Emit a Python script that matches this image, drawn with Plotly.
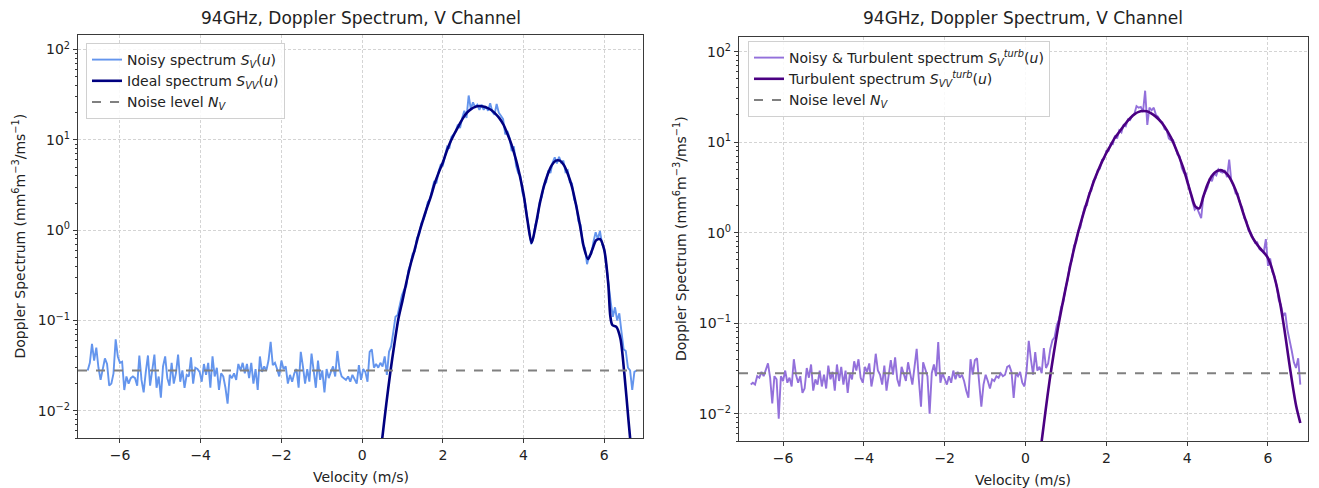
import numpy as np
import plotly.graph_objects as go

# ---------------- data ----------------
# Doppler velocity bins (m/s)
V_MIN, V_MAX, N_BINS = -6.8, 6.8, 256
velocity = np.linspace(V_MIN, V_MAX, N_BINS)

# Noise level N_V (mm^6 m^-3 / m s^-1)
noise_level = 0.028

# Noisy spectrum S_V(u), one value per velocity bin
noisy_spectrum = [
    0.028, 0.034, 0.055, 0.036, 0.050, 0.030, 0.022, 0.029, 0.038, 0.033,
    0.019, 0.020, 0.026, 0.062, 0.040, 0.034, 0.035, 0.017, 0.024, 0.020,
    0.023, 0.024, 0.023, 0.019, 0.041, 0.022, 0.016, 0.027, 0.041, 0.019,
    0.028, 0.042, 0.018, 0.024, 0.014, 0.031, 0.040, 0.023, 0.019, 0.034,
    0.020, 0.026, 0.042, 0.021, 0.028, 0.018, 0.025, 0.024, 0.039, 0.020,
    0.030, 0.029, 0.027, 0.021, 0.033, 0.025, 0.034, 0.018, 0.040, 0.024,
    0.030, 0.017, 0.026, 0.024, 0.018, 0.012, 0.025, 0.023, 0.026, 0.022,
    0.033, 0.028, 0.034, 0.026, 0.033, 0.023, 0.034, 0.020, 0.029, 0.017,
    0.040, 0.027, 0.031, 0.028, 0.036, 0.058, 0.032, 0.034, 0.029, 0.024,
    0.036, 0.029, 0.031, 0.020, 0.025, 0.021, 0.026, 0.029, 0.018, 0.045,
    0.031, 0.020, 0.029, 0.021, 0.043, 0.026, 0.018, 0.036, 0.022, 0.028,
    0.016, 0.029, 0.023, 0.027, 0.031, 0.024, 0.046, 0.029, 0.024, 0.023,
    0.022, 0.024, 0.021, 0.025, 0.022, 0.020, 0.032, 0.022, 0.029, 0.027,
    0.021, 0.045, 0.048, 0.030, 0.033, 0.030, 0.034, 0.031, 0.040, 0.025,
    0.045, 0.052, 0.075, 0.11, 0.115, 0.15, 0.19, 0.22, 0.24, 0.36,
    0.42, 0.55, 0.58, 0.82, 0.90, 1.20, 1.30, 1.55, 2.05, 2.20,
    2.70, 3.50, 3.30, 4.40, 5.3, 5.2, 6.6, 8.4, 8.0, 10.8,
    11.5, 12.5, 14.8, 13.5, 17.5, 21.0, 17.5, 31.0, 22.0, 26.0,
    23.0, 24.5, 21.5, 24.5, 21.5, 23.5, 21.0, 25.5, 20.5, 19.0,
    25.0, 20.0, 18.5, 17.0, 11.5, 12.5, 10.5, 7.5, 8.5, 5.2,
    4.3, 4.0, 2.6, 2.2, 1.5, 0.95, 0.70, 0.80, 1.15, 1.35,
    2.05, 2.35, 3.2, 3.4, 4.6, 4.3, 5.6, 6.4, 5.5, 6.5,
    5.6, 5.9, 4.4, 4.6, 3.4, 3.3, 2.2, 1.9, 1.25, 1.15,
    0.70, 0.64, 0.42, 0.52, 0.55, 0.75, 0.95, 0.80, 0.98, 0.70,
    0.62, 0.40, 0.24, 0.16, 0.11, 0.14, 0.10, 0.12, 0.075, 0.048,
    0.046, 0.030, 0.028, 0.017, 0.027, 0.028,
]

# Ideal spectrum S_VV(u)
ideal_velocity = [
    0.45, 0.50,
    0.6, 0.7, 0.8, 0.9, 1.0, 1.1, 1.2, 1.3, 1.4, 1.5,
    1.6, 1.7, 1.8, 1.9, 2.0, 2.1, 2.2, 2.3, 2.4, 2.5,
    2.6, 2.7, 2.8, 2.9, 3.0, 3.1, 3.2, 3.3, 3.4, 3.5,
    3.6, 3.7, 3.8, 3.9, 4.0, 4.1, 4.2, 4.3, 4.4, 4.5,
    4.6, 4.7, 4.8, 4.9, 5.0, 5.1, 5.2, 5.3, 5.4, 5.5,
    5.6, 5.7, 5.8, 5.9, 6.0, 6.1,
    6.15, 6.2, 6.3, 6.4, 6.5, 6.6, 6.65, 6.7,
]
ideal_spectrum = [
    0.0032, 0.0050,
    0.0120, 0.0269, 0.0550, 0.105, 0.166, 0.269, 0.417, 0.603, 0.891, 1.26,
    1.74, 2.34, 3.31, 4.37, 5.62, 7.59, 9.77, 12.0, 14.5, 17.4,
    20.0, 21.9, 23.2, 23.7, 23.4, 22.6, 21.4, 19.5, 17.4, 14.8,
    11.7, 8.91, 6.31, 4.17, 2.51, 1.26, 0.724, 1.12, 1.95, 3.02,
    4.17, 5.25, 5.89, 5.89, 5.25, 4.17, 3.02, 1.91, 1.12, 0.631,
    0.479, 0.603, 0.776, 0.794, 0.603, 0.251,
    0.112, 0.0891, 0.0851, 0.0631, 0.0251, 0.0079, 0.0045, 0.0025,
]

# Noisy & turbulent spectrum S_V^turb(u), one value per velocity bin
noisy_turb_spectrum = [
    0.021, 0.022, 0.021, 0.026, 0.025, 0.029, 0.026, 0.031, 0.036, 0.025,
    0.013, 0.026, 0.024, 0.0088, 0.026, 0.023, 0.030, 0.022, 0.025, 0.020,
    0.040, 0.027, 0.022, 0.026, 0.017, 0.019, 0.032, 0.025, 0.035, 0.018,
    0.024, 0.021, 0.030, 0.020, 0.027, 0.019, 0.034, 0.024, 0.029, 0.018,
    0.035, 0.023, 0.033, 0.021, 0.030, 0.017, 0.028, 0.024, 0.038, 0.030,
    0.040, 0.025, 0.022, 0.033, 0.029, 0.036, 0.020, 0.027, 0.046, 0.030,
    0.027, 0.021, 0.034, 0.018, 0.026, 0.039, 0.027, 0.042, 0.024, 0.020,
    0.033, 0.028, 0.023, 0.037, 0.028, 0.021, 0.033, 0.052, 0.024, 0.012,
    0.037, 0.030, 0.026, 0.010, 0.028, 0.035, 0.026, 0.062, 0.022, 0.028,
    0.024, 0.021, 0.026, 0.022, 0.030, 0.024, 0.029, 0.025, 0.027, 0.023,
    0.018, 0.015, 0.040, 0.027, 0.039, 0.041, 0.022, 0.012, 0.021, 0.027,
    0.023, 0.019, 0.024, 0.023, 0.026, 0.025, 0.028, 0.026, 0.027, 0.033,
    0.034, 0.029, 0.015, 0.028, 0.026, 0.029, 0.022, 0.020, 0.030, 0.064,
    0.040, 0.027, 0.048, 0.030, 0.033, 0.028, 0.053, 0.032, 0.036, 0.052,
    0.065, 0.070, 0.095, 0.11, 0.15, 0.17, 0.24, 0.30, 0.43, 0.50,
    0.72, 0.78, 1.05, 1.15, 1.55, 1.95, 2.00, 2.75, 2.90, 3.75,
    4.0, 4.9, 5.1, 6.4, 6.5, 8.0, 8.0, 9.6, 9.5, 11.8,
    11.0, 13.5, 12.8, 15.5, 15.0, 17.8, 17.5, 19.6, 20.5, 25.0,
    24.0, 24.5, 21.5, 37.0, 15.5, 24.0, 22.5, 24.0, 20.0, 19.0,
    17.0, 16.5, 14.0, 13.5, 11.0, 10.5, 10.5, 8.9, 7.3, 7.0,
    5.2, 4.6, 4.5, 3.5, 2.7, 2.2, 1.8, 1.9, 1.65, 1.45,
    2.5, 2.9, 3.2, 4.0, 3.7, 4.5, 4.3, 5.0, 4.7, 4.6,
    4.9, 4.1, 6.4, 3.7, 3.3, 2.7, 2.7, 2.1, 1.9, 1.45,
    1.35, 1.05, 1.0, 0.88, 0.77, 0.78, 0.66, 0.63, 0.60, 0.85,
    0.43, 0.52, 0.37, 0.33, 0.26, 0.18, 0.16, 0.12, 0.13, 0.085,
    0.067, 0.050, 0.037, 0.032, 0.041, 0.021,
]

# Turbulent spectrum S_VV^turb(u)
turb_velocity = [
    0.35, 0.40,
    0.5, 0.6, 0.7, 0.8, 0.9, 1.0, 1.1, 1.2, 1.3, 1.4,
    1.5, 1.6, 1.7, 1.8, 1.9, 2.0, 2.1, 2.2, 2.3, 2.4,
    2.5, 2.6, 2.7, 2.8, 2.9, 3.0, 3.1, 3.2, 3.3, 3.4,
    3.5, 3.6, 3.7, 3.8, 3.9, 4.0, 4.1, 4.2, 4.3, 4.4,
    4.5, 4.6, 4.7, 4.8, 4.9, 5.0, 5.1, 5.2, 5.3, 5.4,
    5.5, 5.6, 5.7, 5.8, 5.9, 6.0, 6.1, 6.2, 6.3, 6.4,
    6.5, 6.6, 6.7, 6.8,
]
turb_spectrum = [
    0.00355, 0.0050,
    0.0112, 0.0240, 0.0468, 0.0871, 0.151, 0.251, 0.417, 0.661, 1.00, 1.45,
    2.04, 2.82, 3.80, 4.90, 6.17, 7.59, 9.12, 11.0, 12.6, 14.5,
    16.6, 18.6, 20.4, 21.6, 22.1, 21.9, 20.9, 19.5, 17.8, 15.8,
    13.5, 11.2, 8.91, 6.92, 5.25, 3.72, 2.63, 1.95, 1.86, 2.51,
    3.39, 4.17, 4.68, 4.90, 4.79, 4.37, 3.72, 2.95, 2.19, 1.58,
    1.17, 0.912, 0.776, 0.676, 0.603, 0.525, 0.398, 0.275, 0.166, 0.0891,
    0.0437, 0.0219, 0.0120, 0.0079,
]

# Axis limits
X_RANGE_LEFT = [-7.04, 6.96]
X_RANGE_RIGHT = [-7.09, 6.99]
Y_LIM = [0.005, 145.0]
X_TICKS = [-6, -4, -2, 0, 2, 4, 6]
Y_TICKS = [0.01, 0.1, 1, 10, 100]
Y_TICK_TEXT = ["10<sup>\u22122</sup>", "10<sup>\u22121</sup>", "10<sup>0</sup>",
               "10<sup>1</sup>", "10<sup>2</sup>"]

# ---------------- styling ----------------
FONT = "DejaVu Sans"
W, H = 1319, 488
TEXT_COLOR = "#222222"
FRAME_COLOR = "#3a3a3a"
GRID_COLOR = "#d4d4d4"
GRID_DASH = "3px,2px"

minor_vals = [k * 10.0 ** e for e in range(-3, 3) for k in range(2, 10)]
minor_vals = [m for m in minor_vals if Y_LIM[0] <= m <= Y_LIM[1]]

fig = go.Figure()

# ---- left panel ----
fig.add_trace(go.Scatter(
    x=velocity, y=noisy_spectrum, mode="lines",
    line=dict(color="#6495ED", width=1.9),
    name="Noisy spectrum <i>S</i><sub><i>V</i></sub>(<i>u</i>)",
    xaxis="x", yaxis="y", legend="legend"))
fig.add_trace(go.Scatter(
    x=ideal_velocity, y=ideal_spectrum, mode="lines",
    line=dict(color="#000080", width=2.6, shape="spline", smoothing=0.8),
    name="Ideal spectrum <i>S</i><sub><i>VV</i></sub>(<i>u</i>)",
    xaxis="x", yaxis="y", legend="legend"))
fig.add_trace(go.Scatter(
    x=X_RANGE_LEFT, y=[noise_level, noise_level], mode="lines",
    line=dict(color="#808080", width=1.9, dash="dash"),
    name="Noise level <i>N</i><sub><i>V</i></sub>",
    xaxis="x", yaxis="y", legend="legend"))

# ---- right panel ----
fig.add_trace(go.Scatter(
    x=velocity, y=noisy_turb_spectrum, mode="lines",
    line=dict(color="#9370DB", width=1.9),
    name="Noisy & Turbulent spectrum <i>S</i><sub><i>V</i></sub><sup><i>turb</i></sup>(<i>u</i>)",
    xaxis="x2", yaxis="y2", legend="legend2"))
fig.add_trace(go.Scatter(
    x=turb_velocity, y=turb_spectrum, mode="lines",
    line=dict(color="#4B0082", width=2.6, shape="spline", smoothing=0.8),
    name="Turbulent spectrum <i>S</i><sub><i>VV</i></sub><sup><i>turb</i></sup>(<i>u</i>)",
    xaxis="x2", yaxis="y2", legend="legend2"))
fig.add_trace(go.Scatter(
    x=X_RANGE_RIGHT, y=[noise_level, noise_level], mode="lines",
    line=dict(color="#808080", width=1.9, dash="dash"),
    name="Noise level <i>N</i><sub><i>V</i></sub>",
    xaxis="x2", yaxis="y2", legend="legend2"))


def x_axis(domain, rng, anchor):
    return dict(
        domain=domain, range=rng, anchor=anchor,
        tickvals=X_TICKS, ticktext=[str(t).replace("-", "\u2212") for t in X_TICKS],
        showgrid=True, gridcolor=GRID_COLOR, griddash=GRID_DASH, gridwidth=0.8,
        showline=True, mirror=True, linecolor=FRAME_COLOR, linewidth=1.3,
        ticks="outside", ticklen=4, tickwidth=1, tickcolor=FRAME_COLOR,
        zeroline=False, tickfont=dict(family=FONT, size=14, color=TEXT_COLOR))


def y_axis(domain, anchor):
    return dict(
        type="log", domain=domain, anchor=anchor,
        range=[np.log10(Y_LIM[0]), np.log10(Y_LIM[1])],
        tickvals=Y_TICKS, ticktext=Y_TICK_TEXT,
        showgrid=True, gridcolor=GRID_COLOR, griddash=GRID_DASH, gridwidth=0.8,
        showline=True, mirror=True, linecolor=FRAME_COLOR, linewidth=1.3,
        ticks="outside", ticklen=4, tickwidth=1, tickcolor=FRAME_COLOR,
        minor=dict(tickvals=minor_vals, ticks="outside", ticklen=2,
                   tickcolor=FRAME_COLOR, showgrid=False),
        zeroline=False, tickfont=dict(family=FONT, size=14, color=TEXT_COLOR))


left_x = [78 / W, 643 / W]
right_x = [739 / W, 1308 / W]
left_y = [1 - 438 / H, 1 - 35 / H]
right_y = [1 - 441 / H, 1 - 37 / H]

legend_style = dict(
    bgcolor="rgba(255,255,255,0.85)", bordercolor="#d0d0d0", borderwidth=1,
    font=dict(family=FONT, size=14, color=TEXT_COLOR),
    xanchor="left", yanchor="top", tracegroupgap=0, itemwidth=30)

title = "94GHz, Doppler Spectrum, V Channel"
ylabel = "Doppler Spectrum (mm<sup>6</sup>m<sup>\u22123</sup>/ms<sup>\u22121</sup>)"
xlabel = "Velocity (m/s)"

annotations = []
for (xd, yd) in [(left_x, left_y), (right_x, right_y)]:
    xc = (xd[0] + xd[1]) / 2
    annotations.append(dict(text=title, x=xc, y=1 - 18 / H, xref="paper", yref="paper",
                            showarrow=False, xanchor="center", yanchor="middle",
                            font=dict(family=FONT, size=17, color=TEXT_COLOR)))
    annotations.append(dict(text=xlabel, x=xc, y=yd[0] - 39 / H, xref="paper", yref="paper",
                            showarrow=False, xanchor="center", yanchor="middle",
                            font=dict(family=FONT, size=14, color=TEXT_COLOR)))
    annotations.append(dict(text=ylabel, x=xd[0] - 59 / W, y=(yd[0] + yd[1]) / 2,
                            xref="paper", yref="paper", textangle=-90,
                            showarrow=False, xanchor="center", yanchor="middle",
                            font=dict(family=FONT, size=14, color=TEXT_COLOR)))

fig.update_layout(
    width=W, height=H, autosize=False,
    margin=dict(l=0, r=0, t=0, b=0),
    paper_bgcolor="white", plot_bgcolor="white",
    xaxis=x_axis(left_x, X_RANGE_LEFT, "y"),
    yaxis=y_axis(left_y, "x"),
    xaxis2=x_axis(right_x, X_RANGE_RIGHT, "y2"),
    yaxis2=y_axis(right_y, "x2"),
    legend=dict(x=86 / W, y=1 - 43 / H, **legend_style),
    legend2=dict(x=748 / W, y=1 - 41 / H, **legend_style),
    annotations=annotations,
    showlegend=True,
)

fig.write_html("out.html")
